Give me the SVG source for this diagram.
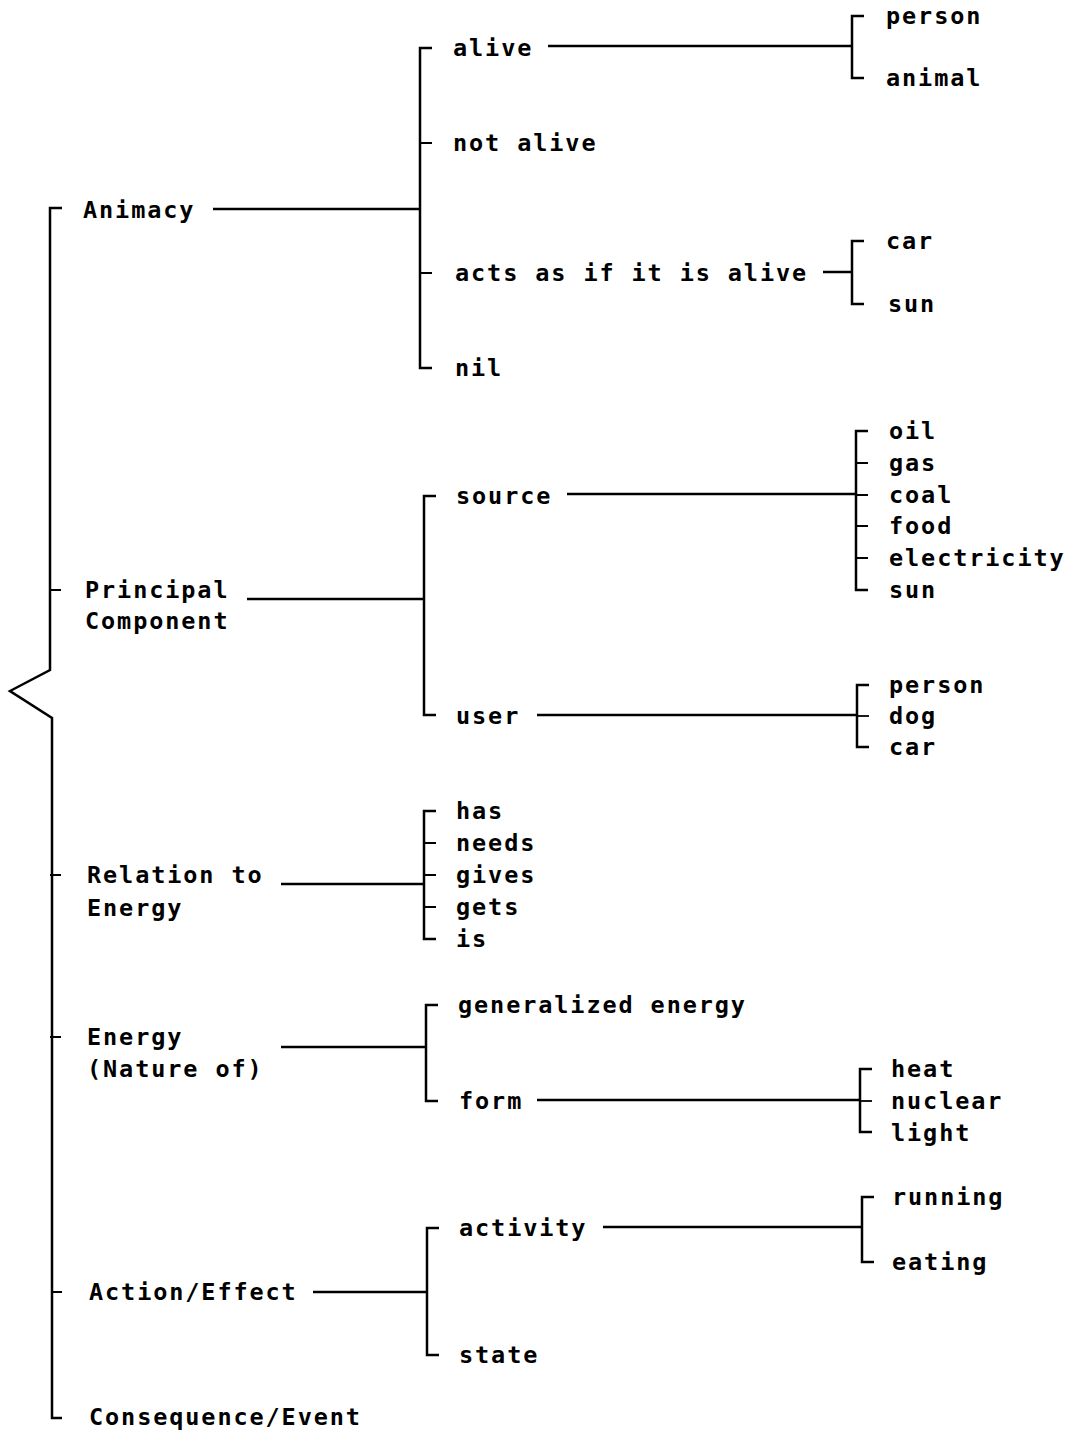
<svg xmlns="http://www.w3.org/2000/svg" width="1072" height="1436" viewBox="0 0 1072 1436">
<style>
text{font-family:"DejaVu Sans Mono","Liberation Mono",monospace;font-size:23.5px;font-weight:bold;letter-spacing:1.9px;fill:#000}
.c path{fill:none;stroke:#000;stroke-width:2.5;stroke-linejoin:miter}
.t path{fill:none;stroke:#000;stroke-width:1.8}
</style>
<rect width="1072" height="1436" fill="#fff"/>
<g id="connectors" class="c">
<path d="M62,208 H50 V670 L10,691 L52,718 V1418 H62"/>
<path d="M213,209 H420 M432,48 H420 V368 H432"/>
<path d="M548,46 H852 M864,16 H852 V78 H864"/>
<path d="M823,272 H852 M864,241 H852 V304 H864"/>
<path d="M247,599 H424 M436,496 H424 V715 H436"/>
<path d="M567,494 H856 M868,431 H856 V590 H868"/>
<path d="M537,715 H857 M869,685 H857 V747 H869"/>
<path d="M281,884 H424 M436,811 H424 V939 H436"/>
<path d="M281,1047 H426 M438,1005 H426 V1101 H438"/>
<path d="M537,1100 H860 M872,1069 H860 V1132 H872"/>
<path d="M313,1292 H427 M439,1228 H427 V1355 H439"/>
<path d="M603,1227 H862 M874,1197 H862 V1262 H874"/>
</g>
<g id="ticks" class="t">
<path d="M50,590 H61 M50,875 H61 M50,1037 H61 M51,1292 H62"/>
<path d="M420,143 H432 M420,273 H432"/>
<path d="M856,463 H868 M856,495 H868 M856,526 H868 M856,558 H868"/>
<path d="M857,716 H869"/>
<path d="M424,843 H436 M424,875 H436 M424,907 H436"/>
<path d="M860,1101 H872"/>
</g>
<g id="animacy"><text x="83" y="218">Animacy</text></g>
<g id="principal-component"><text x="85" y="598">Principal</text><text x="85" y="629">Component</text></g>
<g id="relation-to-energy"><text x="87" y="883">Relation to</text><text x="87" y="916">Energy</text></g>
<g id="energy-nature"><text x="87" y="1045">Energy</text><text x="87" y="1077">(Nature of)</text></g>
<g id="action-effect"><text x="89" y="1300">Action/Effect</text></g>
<g id="consequence-event"><text x="89" y="1425">Consequence/Event</text></g>
<g id="alive"><text x="453" y="56">alive</text></g>
<g id="not-alive"><text x="453" y="151">not alive</text></g>
<g id="acts-alive"><text x="455" y="281">acts as if it is alive</text></g>
<g id="nil"><text x="455" y="376">nil</text></g>
<g id="source"><text x="456" y="504">source</text></g>
<g id="user"><text x="456" y="724">user</text></g>
<g id="has"><text x="456" y="819">has</text></g>
<g id="needs"><text x="456" y="851">needs</text></g>
<g id="gives"><text x="456" y="883">gives</text></g>
<g id="gets"><text x="456" y="915">gets</text></g>
<g id="is"><text x="456" y="947">is</text></g>
<g id="generalized-energy"><text x="458" y="1013">generalized energy</text></g>
<g id="form"><text x="459" y="1109">form</text></g>
<g id="activity"><text x="459" y="1236">activity</text></g>
<g id="state"><text x="459" y="1363">state</text></g>
<g id="person1"><text x="886" y="24">person</text></g>
<g id="animal"><text x="886" y="86">animal</text></g>
<g id="car1"><text x="886" y="249">car</text></g>
<g id="sun1"><text x="888" y="312">sun</text></g>
<g id="oil"><text x="889" y="439">oil</text></g>
<g id="gas"><text x="889" y="471">gas</text></g>
<g id="coal"><text x="889" y="503">coal</text></g>
<g id="food"><text x="889" y="534">food</text></g>
<g id="electricity"><text x="889" y="566">electricity</text></g>
<g id="sun2"><text x="889" y="598">sun</text></g>
<g id="person2"><text x="889" y="693">person</text></g>
<g id="dog"><text x="889" y="724">dog</text></g>
<g id="car2"><text x="889" y="755">car</text></g>
<g id="heat"><text x="891" y="1077">heat</text></g>
<g id="nuclear"><text x="891" y="1109">nuclear</text></g>
<g id="light"><text x="891" y="1141">light</text></g>
<g id="running"><text x="892" y="1205">running</text></g>
<g id="eating"><text x="892" y="1270">eating</text></g>
</svg>
